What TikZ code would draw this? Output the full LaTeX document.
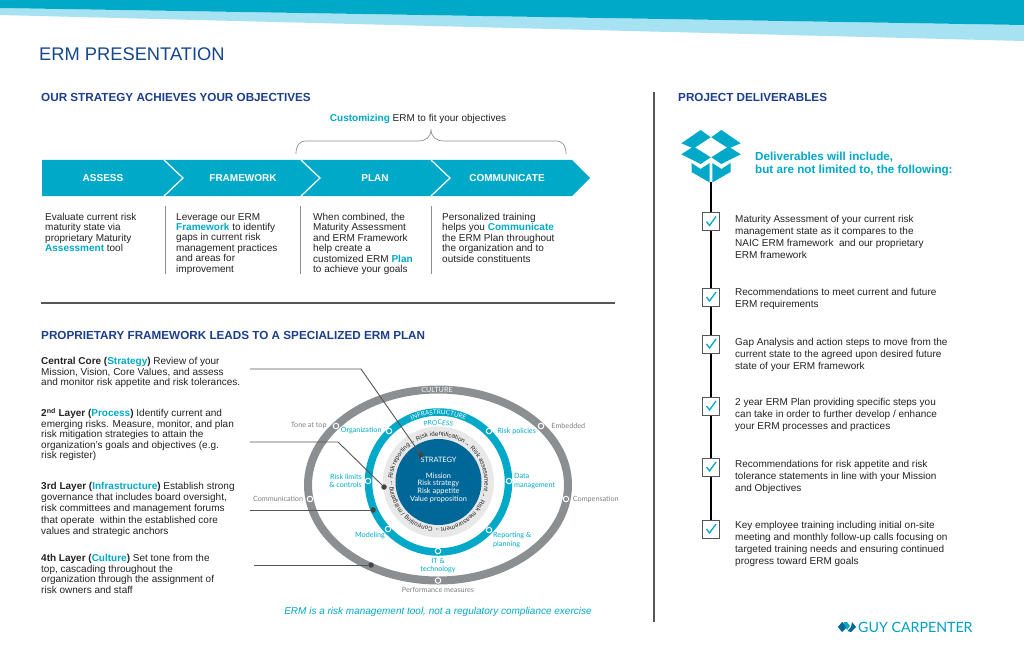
\documentclass[tikz,border=0pt]{standalone}
\usepackage{fontspec}
\setmainfont{Liberation Sans}
\newfontfamily\ringfont{Lato}
\usepackage{tikz}
\usetikzlibrary{positioning,calc,decorations.text}
\definecolor{ermcyan}{RGB}{0,169,200}
\definecolor{ermlight}{RGB}{166,226,241}
\definecolor{ermnavy}{RGB}{28,62,140}
\definecolor{ermgrey}{RGB}{140,143,146}
\definecolor{ermdeep}{RGB}{0,104,152}
\definecolor{ermdisc}{RGB}{232,232,232}
\definecolor{ermtext}{RGB}{35,35,35}
\definecolor{ermrule}{RGB}{85,85,85}
\newcommand{\hl}[1]{\textcolor{ermcyan}{\textbf{#1}}}
\newcommand{\parafont}[1][12]{\fontsize{10}{#1}\selectfont}
\newcommand{\smallfont}{\ringfont\fontsize{7.2}{8.2}\selectfont}

\begin{document}
\begin{tikzpicture}[
    x=1pt, y=1pt,
    heading/.style={anchor=west, inner sep=0pt, text=ermnavy, font=\fontsize{11.7}{14}\selectfont\bfseries},
    para/.style={anchor=north west, inner sep=0pt, align=left, text=ermtext, font=\parafont},
    parb/.style={para, font={\parafont[10.4]}},
    parc/.style={para, font={\parafont[10.7]}},
    chevlabel/.style={inner sep=0pt, text=white, font=\fontsize{10}{12}\selectfont\bfseries},
    sep/.style={draw=ermgrey, line width=0.7pt},
    rulebar/.style={draw=ermrule, line width=1.8pt},
    leader/.style={draw=ermrule, line width=0.9pt},
    leaddot/.style={circle, fill=ermrule!80!black, inner sep=0pt, minimum size=5.5pt},
    culturedot/.style={circle, draw=white, fill=ermgrey, line width=1pt, inner sep=0pt, minimum size=5.5pt},
    infradot/.style={circle, draw=white, fill=ermcyan, line width=1pt, inner sep=0pt, minimum size=5.5pt},
    culturelabel/.style={inner sep=0pt, text=ermgrey!90!black, align=center, font=\smallfont},
    infralabel/.style={inner sep=0pt, text=ermcyan, align=left, font=\smallfont},
    spine/.style={draw=black, line width=1.8pt},
    checkbox/.style={rectangle, draw=ermrule, fill=white, line width=1pt, minimum width=17pt, minimum height=18pt, inner sep=0pt,
        path picture={\draw[ermcyan, line width=1.3pt] ([shift={(-4.5,0)}]path picture bounding box.center) -- ([shift={(-1.5,-4)}]path picture bounding box.center) -- ([shift={(5,5)}]path picture bounding box.center);}},
]
\useasboundingbox (0,0) rectangle (1024,-663);
\fill[white] (0,0) rectangle (1024,-663);

% top band
\fill[ermlight] (0,-8) -- (1024,-25) -- (1024,-41) -- (0,-15) -- cycle;
\fill[ermcyan] (0,0) -- (1024,0) -- (1024,-25) -- (0,-8) -- cycle;
\node[anchor=west, inner sep=0pt, text=ermnavy!80!ermdeep, font=\fontsize{18.3}{20}\selectfont] (title) at (39,-54) {ERM PRESENTATION};

% strategy part
\node[heading] (head1) at (41,-97) {OUR STRATEGY ACHIEVES YOUR OBJECTIVES};
\node[inner sep=0pt, text=ermtext, font=\parafont] (custom) at (418,-118.5) {\hl{Customizing} ERM to fit your objectives};
\draw[ermgrey, line width=0.7pt] (296,-154) .. controls (296,-146) and (299,-141) .. (306,-141) -- (418,-141) .. controls (426,-141) and (431,-137) .. (431,-129) .. controls (431,-137) and (436,-141) .. (444,-141) -- (556,-141) .. controls (563,-141) and (566,-146) .. (566,-154);

\fill[ermcyan] (42,-160) -- (572,-160) -- (590,-178) -- (572,-196) -- (42,-196) -- cycle;
\draw[white, line width=1.2pt] (164,-160) -- (183,-178) -- (164,-196);
\draw[white, line width=1.2pt] (301,-160) -- (320,-178) -- (301,-196);
\draw[white, line width=1.2pt] (431,-160) -- (450,-178) -- (431,-196);
\node[chevlabel] (assess) at (103,-178.5) {ASSESS};
\node[chevlabel] (framework) at (243,-178.5) {FRAMEWORK};
\node[chevlabel] (plan) at (375,-178.5) {PLAN};
\node[chevlabel] (communicate) at (507,-178.5) {COMMUNICATE};

\node[parb] (p1) at (45,-213) {Evaluate current risk\\maturity state via\\proprietary Maturity\\\hl{Assessment} tool};
\node[parb] (p2) at (176,-213) {Leverage our ERM\\\hl{Framework} to identify\\gaps in current risk\\management practices\\and areas for\\improvement};
\node[parb] (p3) at (313,-213) {When combined, the\\Maturity Assessment\\and ERM Framework\\help create a\\customized ERM \hl{Plan}\\to achieve your goals};
\node[parb] (p4) at (442,-213) {Personalized training\\helps you \hl{Communicate}\\the ERM Plan throughout\\the organization and to\\outside constituents};
\draw[sep] (165,-206) -- (165,-274);
\draw[sep] (300,-206) -- (300,-274);
\draw[sep] (431,-206) -- (431,-274);
\draw[rulebar] (41,-303) -- (615,-303);
\draw[rulebar] (654,-92) -- (654,-622);

% framework part
\node[heading] (head2) at (41,-335) {PROPRIETARY FRAMEWORK LEADS TO A SPECIALIZED ERM PLAN};
\node[parc] (core) at (41,-357) {\textbf{Central Core (\hl{Strategy})} Review of your\\Mission, Vision, Core Values, and assess\\and monitor risk appetite and risk tolerances.};
\node[parb] (layer2) at (41,-408) {\textbf{2\textsuperscript{nd} Layer (\hl{Process})} Identify current and\\emerging risks. Measure, monitor, and plan\\risk mitigation strategies to attain the\\organization's goals and objectives (e.g.\\risk register)};
\node[para, font={\parafont[11.2]}] (layer3) at (41,-482) {\textbf{3rd Layer (\hl{Infrastructure})} Establish strong\\governance that includes board oversight,\\risk committees and management forums\\that operate\ \ within the established core\\values and strategic anchors};
\node[parc] (layer4) at (41,-554) {\textbf{4th Layer (\hl{Culture})} Set tone from the\\top, cascading throughout the\\organization through the assignment of\\risk owners and staff};

% rings
\coordinate (cen) at (438.5,-482);
\draw[ermgrey, line width=8pt] (438,-485) ellipse [x radius=130, y radius=95.5];
\draw[ermcyan, line width=7.5pt] (cen) circle (70);
\fill[ermdisc] (cen) circle (55.5);
\fill[ermdeep] (cen) circle (43);
\node[inner sep=0pt, text=white!90!ermgrey, font=\ringfont\fontsize{7.2}{8}\selectfont] (culture) at (437,-389.5) {CULTURE};
\path[decorate, decoration={text along path, text align={align=center}, text={|\ringfont\fontsize{6.4}{8}\selectfont\color{white}|INFRASTRUCTURE}}] ($(cen)+(125:67.5)$) arc[start angle=125, delta angle=-70, radius=67.5];
\path[decorate, decoration={text along path, text align={align=center}, text={|\ringfont\fontsize{6.6}{8}\selectfont\color{ermcyan}|PROCESS}}] ($(cen)+(120:57)$) arc[start angle=120, delta angle=-60, radius=57];
\path[decorate, decoration={text along path, text align={fit to path}, text={|\fontsize{6.2}{8}\selectfont\color{ermtext}|Risk reporting→ Risk identification→ Risk assessment→ Risk measurement→ Controlling / mitigating→}}] ($(cen)+(176:46)$) arc[start angle=176, delta angle=-358, radius=46];
\node[inner sep=0pt, text=white, font=\ringfont\fontsize{7.4}{8}\selectfont] (strategy) at (438.5,-460) {STRATEGY};
\node[inner sep=0pt, text=white, align=center, font=\ringfont\fontsize{7.4}{7.7}\selectfont] (mission) at (438.5,-487.5) {Mission\\Risk strategy\\Risk appetite\\Value proposition};

% markers and labels on the rings
\node[culturedot] (m1) at (336,-426) {};
\node[culturedot] (m2) at (541,-426) {};
\node[culturedot] (m3) at (310,-499) {};
\node[culturedot] (m4) at (566,-499) {};
\node[culturedot] (m5) at (438,-580.5) {};
\node[culturelabel, left=6pt of m1] (tone) {Tone at top};
\node[culturelabel, right=7pt of m2] (embedded) {Embedded};
\node[culturelabel, left=3.5pt of m3] (communication) {Communication};
\node[culturelabel, right=3.5pt of m4] (compensation) {Compensation};
\node[culturelabel, below=3.5pt of m5] (performance) {Performance measures};
\node[infradot] (n1) at (389,-431) {};
\node[infradot] (n2) at (489,-431) {};
\node[infradot] (n3) at (509,-481) {};
\node[infradot] (n4) at (368,-481) {};
\node[infradot] (n5) at (388,-529) {};
\node[infradot] (n6) at (489,-530) {};
\node[infradot] (n7) at (438,-551) {};
\node[infralabel, left=4pt of n1] (organization) {Organization};
\node[infralabel, right=5pt of n2] (riskpol) {Risk policies};
\node[infralabel, anchor=west] (data) at (514,-481) {Data\\management};
\node[infralabel, anchor=east, align=right] (limits) at (362,-481) {Risk limits\\\& controls};
\node[infralabel, anchor=east] (modeling) at (385,-535) {Modeling};
\node[infralabel, anchor=west] (reporting) at (493,-540) {Reporting \&\\planning};
\node[infralabel, align=center, below=4pt of n7] (tech) {IT \&\\technology};

% leaders
\coordinate (ld1) at (250,-369);
\coordinate (ld1b) at (361,-369);
\coordinate (ld2) at (250,-442);
\coordinate (ld2b) at (338,-442);
\coordinate (ld3) at (250,-510);
\coordinate (ld4) at (254,-565);
\node[leaddot] (dot1) at (421,-455) {};
\node[leaddot] (dot2) at (384,-487) {};
\node[leaddot] (dot3) at (373,-510) {};
\node[leaddot] (dot4) at (371,-565) {};
\draw[leader] (ld1) -- (ld1b) -- (dot1);
\draw[leader] (ld2) -- (ld2b) -- (dot2);
\draw[leader] (ld3) -- (dot3);
\draw[leader] (ld4) -- (dot4);
\node[inner sep=0pt, text=ermcyan, font=\parafont\itshape] (footnote) at (438,-612) {ERM is a risk management tool, not a regulatory compliance exercise};

% deliverables part
\node[heading] (head3) at (678,-97) {PROJECT DELIVERABLES};
\fill[ermcyan] (681.3,-143.3) -- (700.7,-130) -- (710.7,-137.3) -- (693.5,-148.5) -- cycle;
\fill[ermcyan] (740.7,-143.3) -- (721.3,-130) -- (711.3,-137.3) -- (728.5,-148.5) -- cycle;
\fill[ermcyan] (681.3,-154.3) -- (693.5,-146.5) -- (710.7,-157.3) -- (700.7,-164) -- cycle;
\fill[ermcyan] (740.7,-154.3) -- (728.5,-146.5) -- (711.3,-157.3) -- (721.3,-164) -- cycle;
\fill[ermcyan] (691.5,-163) -- (700.5,-169) -- (709.7,-163) -- (709.7,-182.5) -- (691.5,-172) -- cycle;
\fill[ermcyan] (730.5,-163) -- (721.5,-169) -- (712.3,-163) -- (712.3,-182.5) -- (730.5,-172) -- cycle;
\coordinate (boxbase) at (711,-182);
\node[anchor=west, inner sep=0pt, align=left, text=ermcyan, font=\fontsize{11.65}{13}\selectfont\bfseries] (lead) at (755,-164.5) {Deliverables will include,\\but are not limited to, the following:};

\node[checkbox] (c1) at (711,-221.5) {};
\node[checkbox] (c2) at (711,-297) {};
\node[checkbox] (c3) at (711,-344) {};
\node[checkbox] (c4) at (711,-406) {};
\node[checkbox] (c5) at (711,-467) {};
\node[checkbox] (c6) at (711,-529) {};
\draw[spine] (boxbase) -- (c1);
\draw[spine] (c1) -- (c2);
\draw[spine] (c2) -- (c3);
\draw[spine] (c3) -- (c4);
\draw[spine] (c4) -- (c5);
\draw[spine] (c5) -- (c6);
\node[para] (d1) at (735,-215) {Maturity Assessment of your current risk\\management state as it compares to the\\NAIC ERM framework\ \ and our proprietary\\ERM framework};
\node[para] (d2) at (735,-288) {Recommendations to meet current and future\\ERM requirements};
\node[para] (d3) at (735,-338.5) {Gap Analysis and action steps to move from the\\current state to the agreed upon desired future\\state of your ERM framework};
\node[para] (d4) at (735,-398.5) {2 year ERM Plan providing specific steps you\\can take in order to further develop / enhance\\your ERM processes and practices};
\node[para] (d5) at (735,-460.5) {Recommendations for risk appetite and risk\\tolerance statements in line with your Mission\\and Objectives};
\node[para] (d6) at (735,-521.5) {Key employee training including initial on-site\\meeting and monthly follow-up calls focusing on\\targeted training needs and ensuring continued\\progress toward ERM goals};

% logo
\fill[ermdeep] (838,-627) -- (842,-622) -- (847,-627) -- (842,-632) -- cycle;
\fill[ermcyan] (843.5,-622) -- (847,-622) -- (850,-626) -- (847,-630) -- cycle;
\fill[ermdeep] (847.5,-631) -- (851,-627) -- (852,-622) -- (856,-627) -- (851,-632) -- cycle;
\node[anchor=west, inner sep=0pt, text=ermcyan!85!ermdeep, font=\ringfont\fontsize{14.2}{15}\selectfont] (logo) at (858,-627) {GUY CARPENTER};
\end{tikzpicture}
\end{document}
